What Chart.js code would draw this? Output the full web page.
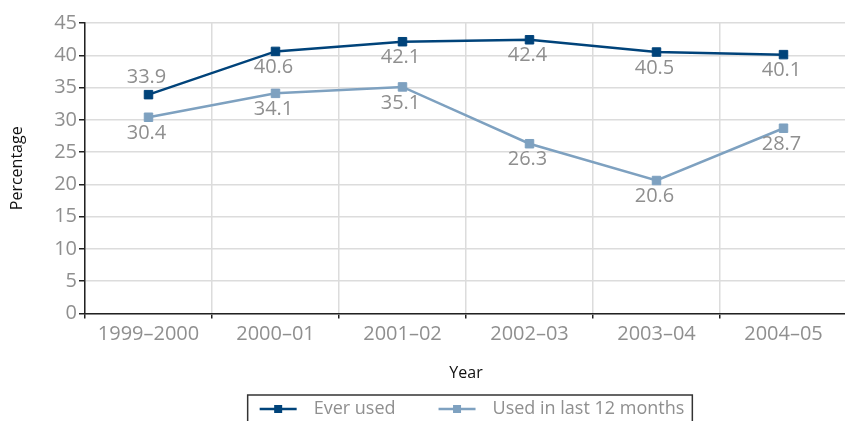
<!DOCTYPE html>
<html>
<head>
<meta charset="utf-8">
<script src="https://cdn.jsdelivr.net/npm/chart.js@4.4.1/dist/chart.umd.min.js"></script>
<style>
  html, body { margin: 0; padding: 0; background: #fff; overflow: hidden; }
  #wrap { width: 845px; height: 421px; overflow: hidden; }
</style>
</head>
<body>
<div id="wrap"><canvas id="c" width="854" height="421"></canvas></div>
<script>
// Survey years and the two prevalence series (percent)
const years = ['1999–2000', '2000–01', '2001–02', '2002–03', '2003–04', '2004–05'];
const everUsed = [33.9, 40.6, 42.1, 42.4, 40.5, 40.1];
const usedLast12Months = [30.4, 34.1, 35.1, 26.3, 20.6, 28.7];
const seriesNames = ['Ever used', 'Used in last 12 months'];
const yAxisMin = 0;
const yAxisMax = 45;
const yAxisStep = 5;

const FONT = '"Open Sans", "Liberation Sans", sans-serif';
const DARK = '#00437a';
const LIGHT = '#7ea1c0';
const GREY_TEXT = '#8f8f8f';
const GRID = '#dcdcdc';
const AXIS = '#222';

// Writes each point's value next to its marker
const valueLabels = {
  id: 'valueLabels',
  afterDatasetsDraw(chart) {
    const ctx = chart.ctx;
    ctx.save();
    ctx.font = '20px ' + FONT;
    ctx.fillStyle = GREY_TEXT;
    ctx.textAlign = 'center';
    ctx.textBaseline = 'middle';
    chart.data.datasets.forEach((ds, i) => {
      const meta = chart.getDatasetMeta(i);
      meta.data.forEach((pt, j) => {
        const above = (ds.labelAbove || []).includes(j);
        ctx.fillText(ds.data[j].toFixed(1), pt.x - 2, pt.y + (above ? -17 : 16));
      });
    });
    ctx.restore();
  }
};

// Framed legend under the axis title, line + square marker per series
const boxLegend = {
  id: 'boxLegend',
  afterDraw(chart) {
    const ctx = chart.ctx;
    const area = chart.chartArea;
    const cx = (area.left + area.right) / 2 + 4;
    const top = 395;
    const lineW = 37, gapText = 17, itemGap = 43, padL = 12, padR = 8;
    ctx.save();
    ctx.font = '18px ' + FONT;
    const items = chart.data.datasets.map(ds => ({
      text: ds.label, color: ds.borderColor, w: ctx.measureText(ds.label).width
    }));
    let total = padL + padR + itemGap * (items.length - 1);
    items.forEach(it => { total += lineW + gapText + it.w; });
    const left = cx - total / 2;
    ctx.strokeStyle = '#333';
    ctx.lineWidth = 1.5;
    ctx.strokeRect(left, top, total, 40);
    const y = top + 14;
    let x = left + padL;
    items.forEach(it => {
      ctx.strokeStyle = it.color;
      ctx.lineWidth = 2.5;
      ctx.beginPath();
      ctx.moveTo(x, y);
      ctx.lineTo(x + lineW, y);
      ctx.stroke();
      ctx.fillStyle = it.color;
      ctx.fillRect(x + lineW / 2 - 4, y - 4, 8, 8);
      x += lineW + gapText;
      ctx.fillStyle = GREY_TEXT;
      ctx.textAlign = 'left';
      ctx.textBaseline = 'middle';
      ctx.fillText(it.text, x, y);
      x += it.w + itemGap;
    });
    ctx.restore();
  }
};

new Chart(document.getElementById('c'), {
  type: 'line',
  data: {
    labels: years,
    datasets: [
      {
        label: seriesNames[0],
        data: everUsed,
        borderColor: DARK,
        backgroundColor: DARK,
        pointBackgroundColor: DARK,
        pointBorderColor: DARK,
        borderWidth: 2.5,
        pointStyle: 'rect',
        pointRadius: 6,
        pointBorderWidth: 1,
        tension: 0,
        labelAbove: [0]
      },
      {
        label: seriesNames[1],
        data: usedLast12Months,
        borderColor: LIGHT,
        backgroundColor: LIGHT,
        pointBackgroundColor: LIGHT,
        pointBorderColor: LIGHT,
        borderWidth: 2.5,
        pointStyle: 'rect',
        pointRadius: 6,
        pointBorderWidth: 1,
        tension: 0
      }
    ]
  },
  options: {
    responsive: false,
    animation: false,
    devicePixelRatio: 1,
    layout: { padding: { top: 23, left: 0, right: 0, bottom: 0 } },
    plugins: {
      legend: { display: false },
      tooltip: { enabled: false }
    },
    scales: {
      x: {
        offset: true,
        grid: { offset: true, color: GRID, lineWidth: 1.5, tickColor: AXIS, tickLength: 5, tickWidth: 1.5 },
        border: { color: AXIS, width: 1.5 },
        ticks: { color: GREY_TEXT, font: { family: FONT, size: 20 }, padding: 4, maxRotation: 0, autoSkip: false },
        title: {
          display: true, text: 'Year', color: '#111',
          font: { family: FONT, size: 16 }, padding: { top: 0, bottom: 38 }
        },
        afterFit(scale) {
          scale.height = 107.5;
          scale.paddingLeft = 0;
          scale.paddingRight = 0;
        }
      },
      y: {
        min: yAxisMin,
        max: yAxisMax,
        grid: { color: GRID, lineWidth: 1.5, tickColor: AXIS, tickLength: 6, tickWidth: 1.5 },
        border: { color: AXIS, width: 1.5 },
        ticks: { stepSize: yAxisStep, color: GREY_TEXT, font: { family: FONT, size: 20 }, padding: 2 },
        title: {
          display: true, text: 'Percentage', color: '#111',
          font: { family: FONT, size: 16 }, padding: { top: 8, bottom: 0 }
        },
        afterFit(scale) {
          scale.width = 85;
          scale.paddingTop = 0;
          scale.paddingBottom = 0;
        }
      }
    }
  },
  plugins: [valueLabels, boxLegend]
});
</script>
</body>
</html>
